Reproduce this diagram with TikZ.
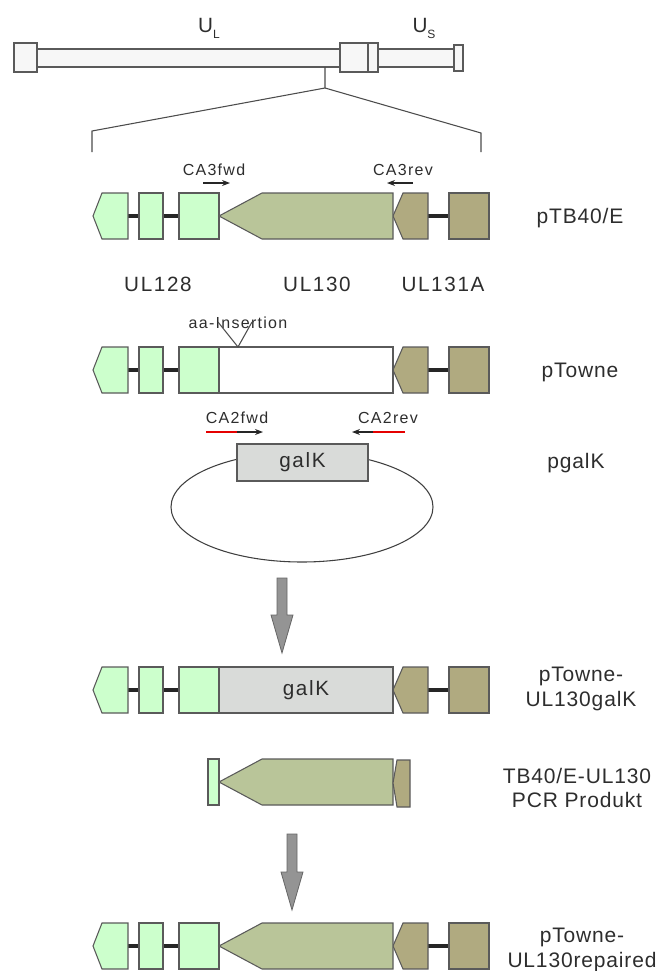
\documentclass[tikz,border=0pt]{standalone}
\usepackage{fontspec}
\setmainfont{Liberation Sans}[LetterSpace=8]
\newfontfamily\namefont{Liberation Sans}[LetterSpace=4]
\usetikzlibrary{arrows.meta,positioning}

\definecolor{genelight}{RGB}{204,255,204}
\definecolor{geneolive}{RGB}{185,197,153}
\definecolor{genedark}{RGB}{176,170,128}
\definecolor{galkgray}{RGB}{217,219,217}
\definecolor{edgegray}{RGB}{90,90,90}
\definecolor{txtgray}{RGB}{45,45,45}

\begin{document}
\begin{tikzpicture}[x=0.75pt, y=-0.75pt,
    lab/.style={font=\fontsize{15.5}{18.75}\selectfont, text=txtgray, inner sep=0pt, align=center},
    rlab/.style={font=\namefont\fontsize{15.75}{18.5}\selectfont, text=txtgray, inner sep=0pt, align=center},
    small/.style={font=\fontsize{12}{14}\selectfont, text=txtgray, inner sep=0pt},
    genome/.style={draw=edgegray, fill=black!3, line width=0.8pt},
    zoomline/.style={draw=black!70, line width=0.8pt},
    exon/.style={draw=edgegray, fill=genelight, line width=0.8pt},
    orf/.style={draw=edgegray, fill=geneolive, line width=0.8pt},
    orfdark/.style={draw=edgegray, fill=genedark, line width=0.8pt},
    linker/.style={line width=2.3pt, black!85},
    primer/.style={-{Stealth[length=6pt, width=4.5pt]}, line width=0.8pt, black!85},
    tag/.style={line width=0.8pt, red!90!black},
    bigarrow/.style={draw=black!60, fill=black!42, line width=0.6pt},
    galkbox/.style={draw=edgegray, fill=galkgray, line width=0.8pt,
      font=\fontsize{15.5}{18.75}\selectfont, text=txtgray, inner sep=0pt},
  ]
  \useasboundingbox (0,0) rectangle (659,971);

  % Genome overview
  \draw[genome] (37,49) rectangle (340,67);
  \draw[genome] (378,49) rectangle (454,67);
  \draw[genome] (14,43) rectangle (37,72);
  \draw[genome] (340,43) rectangle (368,72);
  \draw[genome] (368,43) rectangle (378,72);
  \draw[genome] (454,45) rectangle (463,71);
  \node[lab, anchor=base] (ulong)  at (209,32) {U\raisebox{-0.6ex}{\fontsize{9}{9}\selectfont L}};
  \node[lab, anchor=base] (ushort) at (424,32) {U\raisebox{-0.6ex}{\fontsize{9}{9}\selectfont S}};

  % Zoom bracket
  \coordinate (tick)   at (325,67);
  \coordinate (fork)   at (325,88);
  \coordinate (zleft)  at (92,131);
  \coordinate (zleftb) at (92,152);
  \coordinate (zright) at (481,133);
  \coordinate (zrightb) at (481,152);
  \draw[zoomline] (tick) -- (fork) -- (zleft) -- (zleftb);
  \draw[zoomline] (fork) -- (zright) -- (zrightb);

  % Flanking genes (rows 1, 2, 3, 5)
  \foreach \t in {193,347,667,923}{
    \pgfmathsetmacro\m{\t+23}
    \pgfmathsetmacro\b{\t+46}
    \draw[linker] (128,\m) -- (139,\m) (163,\m) -- (179,\m) (428,\m) -- (449,\m);
    \draw[exon] (93,\m) -- (102,\t) -- (128,\t) -- (128,\b) -- (102,\b) -- cycle;
    \draw[exon] (139,\t) rectangle (163,\b);
    \draw[exon] (179,\t) rectangle (219,\b);
    \draw[orfdark] (393,\m) -- (403,\t) -- (428,\t) -- (428,\b) -- (403,\b) -- cycle;
    \draw[orfdark] (449,\t) rectangle (489,\b);
  }

  % Row 1: pTB40/E
  \draw[orf] (219,216) -- (262,193) -- (393,193) -- (393,239) -- (262,239) -- cycle;
  \coordinate (ca3fs) at (203,183);
  \coordinate (ca3fe) at (230,183);
  \coordinate (ca3rs) at (413,183);
  \coordinate (ca3re) at (387,183);
  \draw[primer] (ca3fs) -- (ca3fe);
  \draw[primer] (ca3rs) -- (ca3re);
  \node[small, anchor=base] (ca3fwd) at (214,175) {CA3fwd};
  \node[small, anchor=base] (ca3rev) at (403,175) {CA3rev};
  \node[rlab, anchor=base] (ptb) at (580,223) {pTB40/E};

  % Gene names
  \node[lab, anchor=base] (ul128)  at (158,291) {UL128};
  \node[lab, anchor=base] (ul130)  at (317,291) {UL130};
  \node[lab, anchor=base] (ul131a) at (443,291) {UL131A};

  % Row 2: pTowne
  \draw[draw=edgegray, fill=white, line width=0.8pt] (219,347) rectangle (393,393);
  \node[small, anchor=base] (aains) at (238,328) {aa-Insertion};
  \coordinate (insl) at (218,322);
  \coordinate (insp) at (238,347);
  \coordinate (insr) at (252,322);
  \draw[zoomline] (insl) -- (insp) -- (insr);
  \node[rlab, anchor=base] (ptowne) at (580,377) {pTowne};

  % pgalK
  \node[small, anchor=base] (ca2fwd) at (237,423) {CA2fwd};
  \node[small, anchor=base] (ca2rev) at (388,423) {CA2rev};
  \coordinate (ca2fs) at (206,432);
  \coordinate (ca2fm) at (237,432);
  \coordinate (ca2fe) at (263,432);
  \coordinate (ca2rs) at (405,432);
  \coordinate (ca2rm) at (373,432);
  \coordinate (ca2re) at (352,432);
  \draw[tag] (ca2fs) -- (ca2fm);
  \draw[primer] (ca2fm) -- (ca2fe);
  \draw[tag] (ca2rs) -- (ca2rm);
  \draw[primer] (ca2rm) -- (ca2re);
  \draw[draw=black!75, line width=0.8pt] (302,507) ellipse [x radius=98.25pt, y radius=41.25pt];
  \node[galkbox, minimum width=98.25pt, minimum height=27.75pt] (galk) at (302.5,462.5) {galK};
  \node[rlab, anchor=base] (pgalk) at (576,468) {pgalK};

  % Arrow 1
  \draw[bigarrow] (277,578) -- (287,578) -- (287,615) -- (293,615) -- (282,653)
    -- (271,615) -- (277,615) -- cycle;

  % Row 3: pTowne-UL130galK
  \node[galkbox, minimum width=130.5pt, minimum height=34.5pt] (galkins) at (306,690) {galK};
  \node[rlab] (ptgalk) at (581,689) {pTowne-\\UL130galK};

  % Row 4: PCR product
  \draw[exon] (208,759) rectangle (219,805);
  \draw[orf] (219,782) -- (262,759) -- (393,759) -- (393,805) -- (262,805) -- cycle;
  \draw[orfdark] (393,783) -- (397,760) -- (410,760) -- (410,807) -- (397,807) -- cycle;
  \node[rlab] (pcr) at (577,788) {TB40/E-UL130\\PCR Produkt};

  % Arrow 2
  \draw[bigarrow] (287,834) -- (297,834) -- (297,872) -- (303,872) -- (292,910)
    -- (281,872) -- (287,872) -- cycle;

  % Row 5: pTowne-UL130repaired
  \draw[orf] (219,946) -- (262,923) -- (393,923) -- (393,969) -- (262,969) -- cycle;
  \node[rlab] (ptrep) at (582,950) {pTowne-\\UL130repaired};

\end{tikzpicture}
\end{document}
